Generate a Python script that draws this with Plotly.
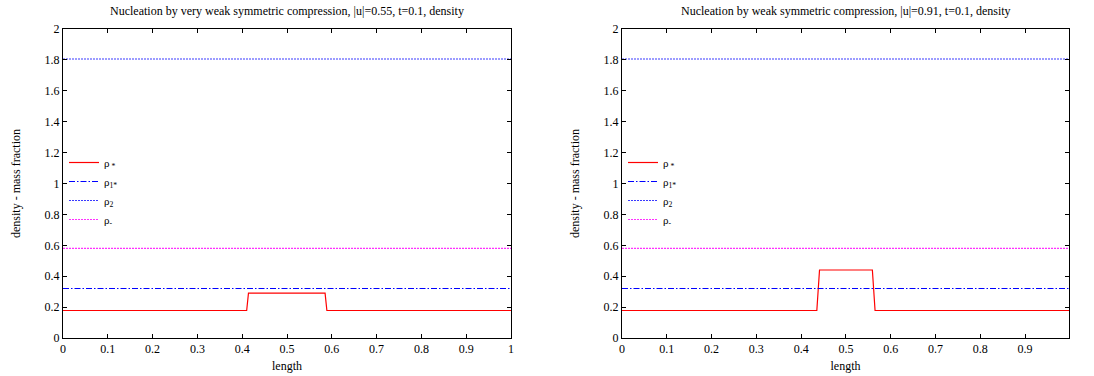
import plotly.graph_objects as go

# ---- data ----
# left panel: |u|=0.55
left_x = [0.0, 0.410, 0.414, 0.585, 0.589, 1.0]
left_rho_star = [0.178, 0.178, 0.290, 0.290, 0.178, 0.178]
# right panel: |u|=0.91
right_x = [0.0, 0.435, 0.441, 0.559, 0.565, 0.998]
right_rho_star = [0.178, 0.178, 0.440, 0.440, 0.178, 0.178]

rho_1star = 0.32
rho_2 = 1.806
rho_minus = 0.58

titles = ["Nucleation by very weak symmetric compression, |u|=0.55, t=0.1, density",
          "Nucleation by weak symmetric compression, |u|=0.91, t=0.1, density"]
legend_names = ["ρ<sub> *</sub>", "ρ<sub>1*</sub>", "ρ<sub>2</sub>", "ρ<sub>-</sub>"]
x_max = [1.0, 0.998]
x_ticks = [[0, 0.1, 0.2, 0.3, 0.4, 0.5, 0.6, 0.7, 0.8, 0.9, 1.0],
           [0, 0.1, 0.2, 0.3, 0.4, 0.5, 0.6, 0.7, 0.8, 0.9]]
y_ticks = [0, 0.2, 0.4, 0.6, 0.8, 1.0, 1.2, 1.4, 1.6, 1.8, 2.0]

FONT = "Liberation Serif"
W, H = 1094, 376
x_domains = [[63 / W, 511 / W], [622 / W, 1069 / W]]
y_domain = [(H - 338) / H, (H - 29) / H]

fig = go.Figure()
panels = [(left_x, left_rho_star), (right_x, right_rho_star)]
for i, (xs, ys) in enumerate(panels):
    xa = "x" if i == 0 else "x2"
    ya = "y" if i == 0 else "y2"
    lg = "legend" if i == 0 else "legend2"
    xr = [0, x_max[i]]
    fig.add_trace(go.Scatter(x=xs, y=ys, mode="lines", name=legend_names[0],
                             line=dict(color="#ff0000", width=1.2),
                             xaxis=xa, yaxis=ya, legend=lg))
    fig.add_trace(go.Scatter(x=xr, y=[rho_1star, rho_1star], mode="lines", name=legend_names[1],
                             line=dict(color="#0000ff", width=1.1, dash="6px,2px,1.5px,2px"),
                             xaxis=xa, yaxis=ya, legend=lg))
    fig.add_trace(go.Scatter(x=xr, y=[rho_2, rho_2], mode="lines", name=legend_names[2],
                             line=dict(color="#3a3aff", width=1.1, dash="2px,1px"),
                             xaxis=xa, yaxis=ya, legend=lg))
    fig.add_trace(go.Scatter(x=xr, y=[rho_minus, rho_minus], mode="lines", name=legend_names[3],
                             line=dict(color="#ff30ff", width=1.1, dash="2px,1px"),
                             xaxis=xa, yaxis=ya, legend=lg))

axis_common = dict(showline=True, linecolor="black", linewidth=1, mirror="ticks",
                   ticks="inside", ticklen=4, tickcolor="black", showgrid=False,
                   zeroline=False, automargin=False,
                   tickfont=dict(family=FONT, size=12, color="black"))

for i in range(2):
    sfx = "" if i == 0 else "2"
    fig.update_layout(**{
        "xaxis" + sfx: dict(axis_common, domain=x_domains[i], range=[0, x_max[i]],
                            tickvals=x_ticks[i], ticktext=[f"{v:g}" for v in x_ticks[i]],
                            anchor="y" + sfx,
                            title=dict(text="length", font=dict(family=FONT, size=12, color="black"),
                                       standoff=6)),
        "yaxis" + sfx: dict(axis_common, domain=y_domain, range=[0, 2],
                            tickvals=y_ticks, ticktext=[f"{v:g}" for v in y_ticks],
                            anchor="x" + sfx,
                            title=dict(text="density - mass fraction",
                                       font=dict(family=FONT, size=12, color="black"),
                                       standoff=21)),
    })
    fig.add_annotation(text=titles[i], xref="paper", yref="paper",
                       x=(x_domains[i][0] + x_domains[i][1]) / 2, y=(H - 11) / H,
                       xanchor="center", yanchor="middle", showarrow=False,
                       font=dict(family=FONT, size=12, color="black"))

legend_common = dict(bgcolor="rgba(0,0,0,0)", borderwidth=0,
                     font=dict(family=FONT, size=11, color="black"),
                     yanchor="top", xanchor="left", itemwidth=30,
                     tracegroupgap=0)
fig.update_layout(
    legend=dict(legend_common, x=64 / W, y=(H - 148) / H),
    legend2=dict(legend_common, x=623 / W, y=(H - 148) / H),
    width=W, height=H,
    margin=dict(l=0, r=0, t=0, b=0, autoexpand=False),
    paper_bgcolor="white", plot_bgcolor="white",
    showlegend=True,
)

fig.write_html("out.html", config={"displayModeBar": False},
               post_script="document.body.style.margin='0';document.body.style.padding='0';"
                           "document.body.style.overflow='hidden';")
